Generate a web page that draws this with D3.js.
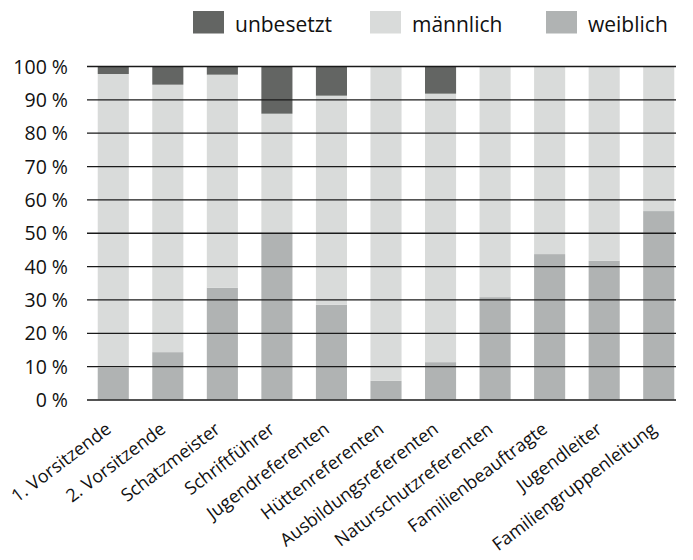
<!DOCTYPE html>
<html><head><meta charset="utf-8">
<script src="https://cdn.jsdelivr.net/npm/d3@7"></script>
<style>body{margin:0;background:#fff}text{font-family:"Open Sans",sans-serif;fill:#111}</style>
</head><body><svg id="c" width="693" height="560"></svg>
<script>
const categories = ["1. Vorsitzende","2. Vorsitzende","Schatzmeister","Schriftführer","Jugendreferenten","Hüttenreferenten","Ausbildungsreferenten","Naturschutzreferenten","Familienbeauftragte","Jugendleiter","Familiengruppenleitung"];
const weiblich  = [9.5, 14.2, 33.5, 50.1, 28.4, 5.6, 11.2, 30.7, 43.6, 41.6, 56.5];
const maennlich = [88.1, 80.2, 63.9, 35.6, 62.7, 94.4, 80.5, 69.3, 56.4, 58.4, 43.5];
const unbesetzt = [2.4, 5.6, 2.6, 14.3, 8.9, 0, 8.3, 0, 0, 0, 0];
const seriesNames = ["weiblich","männlich","unbesetzt"];
const legendOrder = ["unbesetzt","männlich","weiblich"];
const yTicks = [0,10,20,30,40,50,60,70,80,90,100];
const colors = {"weiblich":"#b0b3b3","männlich":"#d9dbda","unbesetzt":"#636563"};

const svg = d3.select("#c");
const x = d3.scaleBand().domain(categories).range([86, 686]).paddingInner(0.43).paddingOuter(0.215);
const y = d3.scaleLinear().domain([0,100]).range([399.5, 66]);

const rows = categories.map((c,i)=>({cat:c, "weiblich":weiblich[i], "männlich":maennlich[i], "unbesetzt":unbesetzt[i]}));
const stack = d3.stack().keys(seriesNames)(rows);

svg.append("g").selectAll("g").data(stack).join("g")
  .attr("fill", d=>colors[d.key])
  .selectAll("rect").data(d=>d).join("rect")
  .attr("x", d=>x(d.data.cat)).attr("width", x.bandwidth())
  .attr("y", d=>y(d[1])).attr("height", d=>Math.max(0, y(d[0])-y(d[1])));

// gridlines on top
const yAxis = d3.axisLeft(y).tickValues(yTicks).tickSize(0).tickPadding(0).tickFormat(d=>d+" %");
const gy = svg.append("g").attr("transform","translate(87,0)").call(yAxis);
gy.select(".domain").remove();
gy.selectAll(".tick line").attr("x2", 589).attr("stroke","#1a1a1a").attr("stroke-width",1.3);
gy.selectAll(".tick text").attr("x",-19).attr("dy","0.36em").style("font-size","19.5px").attr("fill","#111");

// x labels
const gx = svg.append("g").attr("transform","translate(0,399.5)")
  .call(d3.axisBottom(x).tickSize(0).tickPadding(0));
gx.select(".domain").remove();
gx.selectAll(".tick text")
  .attr("text-anchor","end").attr("dy",0).attr("y",0)
  .attr("transform","translate(-1,32) rotate(-37)")
  .style("font-size","18px").attr("fill","#111");

// legend
const lx = [193, 370, 546];
const lg = svg.append("g").selectAll("g").data(legendOrder).join("g")
  .attr("transform",(d,i)=>`translate(${lx[i]},11)`);
lg.append("rect").attr("width",31).attr("height",22.5).attr("fill",d=>colors[d]);
lg.append("text").attr("x",42).attr("y",21).style("font-size","21px").text(d=>d);
</script></body></html>
